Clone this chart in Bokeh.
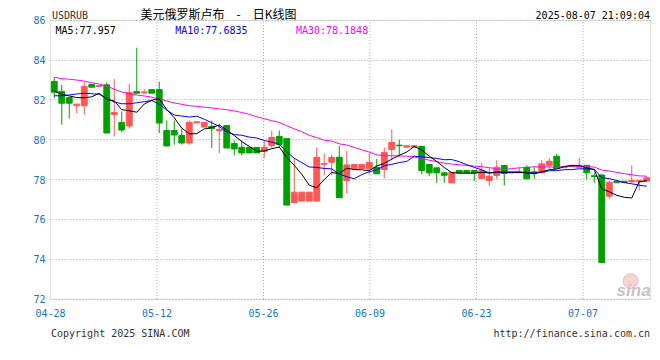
import numpy as np
from bokeh.plotting import figure
from bokeh.models import Range1d, FixedTicker, Label, ColumnDataSource, BoxAnnotation
from bokeh.layouts import column
from bokeh.embed import file_html
from bokeh.resources import INLINE

# ---------------- data ----------------
x_tick_labels = ["04-28", "05-12", "05-26", "06-09", "06-23", "07-07"]
y_ticks = [72, 74, 76, 78, 80, 82, 84, 86]

opens = [82.93, 82.43, 82.12, 81.71, 81.71, 82.78, 82.68, 82.76, 81.26, 80.87,
         80.69, 82.42, 82.35, 82.52, 82.52, 80.47, 80.47, 80.22, 79.84, 80.85,
         80.64, 80.675, 80.46, 80.72, 79.81, 79.62, 79.62, 79.62, 79.42, 79.71,
         80.17, 80.06, 76.84, 76.92, 76.92, 76.92, 78.77, 78.87, 79.12, 77.95,
         78.56, 78.56, 78.54, 78.62, 78.51, 79.51, 79.73, 79.63, 79.63, 79.67,
         78.76, 78.59, 78.34, 77.84, 78.46, 78.46, 78.46, 78.06, 77.96, 78.21,
         78.71, 78.34, 78.34, 78.62, 78.39, 78.34, 78.72, 79.17, 78.60, 78.70,
         78.62, 78.72, 78.19, 78.23, 77.17, 77.92, 77.92, 77.89, 77.89, 77.92]
highs = [83.12, 82.76, 82.12, 81.79, 82.89, 82.78, 82.72, 82.89, 83.04, 81.42,
         82.79, 84.62, 82.54, 82.52, 82.92, 80.97, 80.97, 80.56, 80.97, 80.90,
         80.875, 80.96, 80.79, 80.72, 79.97, 79.96, 79.62, 79.62, 79.92, 80.46,
         80.46, 80.06, 79.09, 77.37, 77.37, 79.62, 79.29, 79.26, 79.70, 79.45,
         78.76, 78.76, 79.31, 79.04, 79.62, 80.52, 80.01, 79.70, 79.70, 79.67,
         78.76, 78.59, 78.34, 78.37, 78.46, 78.46, 78.46, 78.84, 78.59, 78.97,
         78.71, 78.37, 78.62, 78.71, 78.62, 78.97, 79.09, 79.29, 78.65, 78.70,
         79.09, 78.72, 78.34, 78.30, 77.96, 77.92, 77.92, 78.72, 77.96, 78.17]
lows = [82.09, 80.76, 81.06, 81.34, 81.26, 82.64, 82.68, 80.34, 80.17, 80.39,
        80.56, 82.34, 82.35, 82.34, 80.34, 79.69, 79.76, 79.76, 79.76, 80.85,
        80.64, 79.59, 79.34, 79.59, 79.21, 79.21, 79.34, 79.34, 79.09, 79.59,
        79.59, 76.72, 76.84, 76.92, 76.92, 76.92, 78.22, 78.22, 77.09, 77.30,
        78.56, 78.56, 78.26, 78.29, 78.06, 78.96, 79.17, 79.63, 79.63, 78.26,
        78.17, 77.84, 77.84, 77.84, 78.34, 78.34, 77.92, 78.06, 77.67, 78.04,
        77.70, 78.34, 78.34, 78.04, 78.04, 78.34, 78.54, 78.56, 78.60, 78.66,
        78.62, 78.01, 77.84, 73.84, 77.04, 77.84, 77.84, 77.84, 77.46, 77.92]
closes = [82.39, 81.84, 81.84, 81.79, 82.68, 82.64, 82.72, 80.34, 81.37, 80.49,
          82.375, 82.34, 82.40, 82.34, 80.84, 79.69, 80.24, 79.84, 80.87, 80.90,
          80.875, 80.56, 80.52, 79.59, 79.54, 79.34, 79.34, 79.34, 79.62, 80.12,
          79.76, 76.72, 77.37, 77.37, 77.37, 79.12, 78.80, 79.12, 77.09, 78.74,
          78.76, 78.76, 78.87, 78.29, 79.37, 79.87, 79.70, 79.70, 79.70, 78.46,
          78.34, 78.34, 78.22, 78.37, 78.34, 78.34, 78.34, 78.46, 78.17, 78.62,
          78.31, 78.37, 78.39, 78.04, 78.34, 78.79, 78.92, 78.56, 78.65, 78.66,
          78.72, 78.34, 78.16, 73.84, 77.87, 77.85, 77.85, 77.96, 77.96, 78.09]

# moving-average values before a full window exists
ma5_head = [82.45, 82.29, 82.20, 82.12]
ma10_head = [82.21, 82.21, 82.25, 82.30, 82.34, 82.31, 82.29, 82.06, 81.90]
ma30_head = [83.14, 83.07, 83.04, 83.00, 82.95, 82.86, 82.80, 82.70, 82.54, 82.40,
             82.31, 82.25, 82.20, 82.14, 82.04, 81.95, 81.85, 81.78, 81.71, 81.68,
             81.64, 81.60, 81.55, 81.51, 81.45, 81.37, 81.28, 81.16, 81.06]

legend_texts = ["MA5:77.957", "MA10:77.6835", "MA30:78.1848"]
symbol = "USDRUB"
title_text = "美元俄罗斯卢布　-　日K线图"
stamp = "2025-08-07 21:09:04"
copyright_text = "Copyright 2025 SINA.COM"
url_text = "http://finance.sina.com.cn"

# ---------------- derived ----------------
n = len(closes)
xs = np.arange(n) + 0.5
c = np.array(closes)

def moving_avg(head, w):
    return list(head) + [float(c[i - w + 1:i + 1].mean()) for i in range(w - 1, n)]

ma5 = moving_avg(ma5_head, 5)
ma10 = moving_avg(ma10_head, 10)
ma30 = moving_avg(ma30_head, 30)

RED = "#ff5656"
GREEN = "#00a000"
colors = [RED if cl >= op else GREEN for op, cl in zip(opens, closes)]
src = ColumnDataSource(dict(
    x=xs, top=[max(o, cc) for o, cc in zip(opens, closes)],
    bottom=[min(o, cc) for o, cc in zip(opens, closes)],
    high=highs, low=lows, color=colors))

MONO = "DejaVu Sans Mono"
BLUE_T = "#1673c8"
GRID = "#a8a8a8"
W = 660
MAIN_H = 325
FOOT_H = 360 - MAIN_H

# main figure: the frame spans page x 49..651 and page y 0..300,
# so the header line lives inside the frame (annotations are clipped to it)
PX_X = 7.5          # pixels per candle slot
PX_Y = 19.914       # pixels per price unit
x_lo = 0 - 1 / PX_X
x_hi = n + 1 / PX_X
y_lo = min(y_ticks) - 1.4 / PX_Y
y_hi = max(y_ticks) + 19.8 / PX_Y

p = figure(width=W, height=MAIN_H, output_backend="svg", toolbar_location=None,
           x_range=Range1d(x_lo, x_hi), y_range=Range1d(y_lo, y_hi),
           min_border_left=49, min_border_right=9, min_border_top=0,
           min_border_bottom=MAIN_H - 300, background_fill_color="white",
           border_fill_color="white")
p.outline_line_color = None

p.yaxis.ticker = FixedTicker(ticks=y_ticks)
p.yaxis.axis_line_color = None
p.yaxis.major_tick_line_color = None
p.yaxis.minor_tick_line_color = None
p.yaxis.major_tick_out = 0
p.yaxis.major_tick_in = 0
p.yaxis.minor_tick_out = 0
p.yaxis.major_label_standoff = 4
p.yaxis.major_label_text_font = MONO
p.yaxis.major_label_text_font_size = "10px"
p.yaxis.major_label_text_color = BLUE_T

xt = [round(14.2 * k, 1) for k in range(len(x_tick_labels))]
p.xaxis.ticker = FixedTicker(ticks=xt)
p.xaxis.major_label_overrides = {t: lab for t, lab in zip(xt, x_tick_labels)}
p.xaxis.axis_line_color = None
p.xaxis.major_tick_line_color = None
p.xaxis.minor_tick_line_color = None
p.xaxis.major_tick_out = 0
p.xaxis.major_tick_in = 0
p.xaxis.minor_tick_out = 0
p.xaxis.major_label_standoff = 8
p.xaxis.major_label_text_font = MONO
p.xaxis.major_label_text_font_size = "10px"
p.xaxis.major_label_text_color = BLUE_T

# grids: horizontal via the axis grid, vertical limited to the price box
p.xgrid.visible = False
p.ygrid.grid_line_color = GRID
p.ygrid.grid_line_dash = "1 2"
p.ygrid.grid_line_width = 1
p.segment(x0=xt[1:], y0=[min(y_ticks)] * (len(xt) - 1), x1=xt[1:],
          y1=[max(y_ticks)] * (len(xt) - 1), line_color=GRID, line_dash="1 2",
          line_width=1)

# price box border
p.add_layout(BoxAnnotation(left=0, right=n, bottom=min(y_ticks), top=max(y_ticks),
                           fill_alpha=0, line_color="#9a9a9a", line_width=1,
                           level="underlay"))

# candles
p.segment(x0="x", y0="low", x1="x", y1="high", color="color", line_width=1, source=src)
p.vbar(x="x", width=0.78, top="top", bottom="bottom", fill_color="color",
       line_color="color", line_width=1, source=src)

# moving averages
p.line(xs, ma30, color="#ff00ff", line_width=1)
p.line(xs, ma10, color="#0000ff", line_width=1)
p.line(xs, ma5, color="#000000", line_width=1)

# sina watermark
p.scatter([77.35], [72.9], size=15, marker="circle", fill_color="#f2b4b4",
          fill_alpha=0.6, line_color="#eaa0a0", line_alpha=0.6)
p.add_layout(Label(x=77.75, y=72.45, text="sina", text_font="Liberation Sans",
                   text_font_style="bold italic", text_font_size="17px",
                   text_color="#c4c4c4", text_align="center", text_baseline="middle"))

# legend texts inside the box
for xpos, txt, col in zip([0.67, 16.63, 32.72], legend_texts, ["#000000", "#0000ff", "#ff00ff"]):
    p.add_layout(Label(x=xpos, y=y_hi - 29.5 / PX_Y, text=txt, text_font=MONO,
                       text_font_size="10px", text_color=col, text_baseline="middle"))

# header line (above the price box, still inside the frame)
p.add_layout(Label(x=0.2, y=y_hi - 14.5 / PX_Y, text=symbol, text_font=MONO,
                   text_font_size="10px", text_color="#333333", text_baseline="middle"))
p.add_layout(Label(x=12.0, y=y_hi - 13.3 / PX_Y, text=title_text,
                   text_font="Noto Sans CJK SC", text_font_size="12px",
                   text_color="#000000", text_baseline="middle"))
p.add_layout(Label(x=79.93, y=y_hi - 14.5 / PX_Y, text=stamp, text_font=MONO,
                   text_font_size="10px", text_color="#000000", text_align="right",
                   text_baseline="middle"))

# ---------------- footer ----------------
foot = figure(width=W, height=FOOT_H, output_backend="svg", toolbar_location=None,
              x_range=Range1d(49, 651), y_range=Range1d(FOOT_H, 0),
              x_axis_type=None, y_axis_type=None,
              min_border_left=49, min_border_right=9,
              min_border_top=0, min_border_bottom=0)
foot.outline_line_color = None
foot.grid.visible = False
foot.add_layout(Label(x=50.5, y=8, text=copyright_text, text_font=MONO, text_font_size="10px",
                      text_color="#333333", text_baseline="middle"))
foot.add_layout(Label(x=649.5, y=8, text=url_text, text_font=MONO, text_font_size="10px",
                      text_color="#333333", text_align="right", text_baseline="middle"))

layout = column(p, foot, spacing=0)
open("out.html", "w").write(file_html(layout, INLINE))
